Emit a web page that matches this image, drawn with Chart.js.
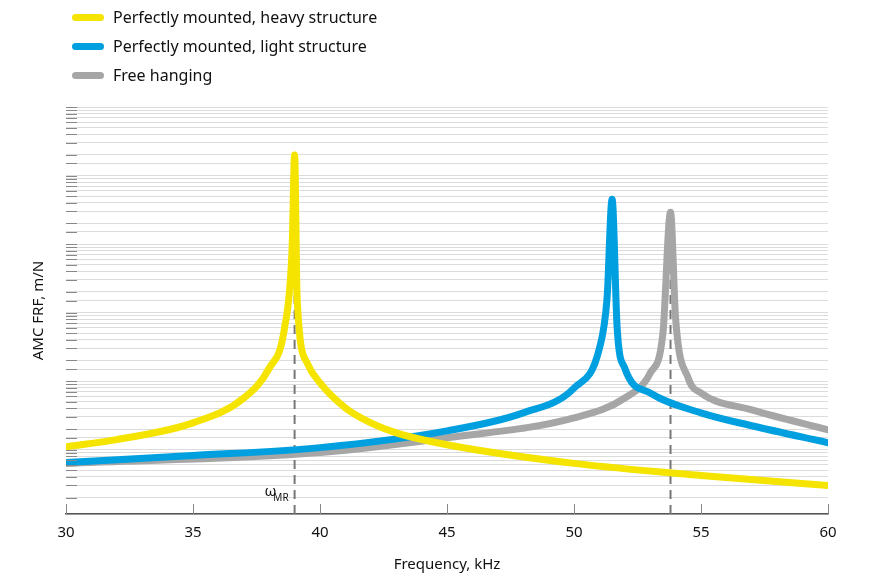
<!DOCTYPE html>
<html><head><meta charset="utf-8">
<script src="https://cdn.jsdelivr.net/npm/chart.js@4/dist/chart.umd.min.js"></script>
<style>
body{margin:0;width:875px;height:584px;position:relative;font-family:"Noto Sans","Open Sans",sans-serif;background:#fff}
#wrap{position:absolute;left:0;top:0;width:875px;height:584px}
.lg{position:absolute;left:72px;font-size:16px;color:#111;display:flex;align-items:center}
.lg span{display:inline-block;width:32px;height:7px;border-radius:4px;margin-right:9px}
</style></head><body>
<div id="wrap"><canvas id="c" width="875" height="584"></canvas></div>
<div class="lg" style="top:6px"><span style="background:#f5e400"></span>Perfectly mounted, heavy structure</div>
<div class="lg" style="top:35px"><span style="background:#009fdf"></span>Perfectly mounted, light structure</div>
<div class="lg" style="top:64px"><span style="background:#a6a6a6"></span>Free hanging</div>
<script>
const heavyX=[30,32,35,37,38,38.6,38.9,39,39.1,39.5,40,41,42,43,45,50,55,60];
const heavyY=[1.10,1.40,2.46,5.67,15.4,58.6,846,20000,160,18.2,9.4,4.06,2.46,1.76,1.18,0.63,0.42,0.30];
const lightX=[30,35,40,45,48,50,51,51.3,51.5,51.7,52,53,55,57,60];
const lightY=[0.65,0.82,1.07,1.88,3.44,7.9,30,160,4500,58.6,15.4,6.7,3.44,2.23,1.26];
const freeX=[30,40,45,50,52,53,53.5,53.8,54,54.5,55,57,60];
const freeY=[0.63,0.91,1.49,2.91,5.67,13.1,49.6,2900,82,11.0,6.7,3.8,1.95];
const markerX=[39,53.8];
const markerTop=[20000,2900];
const xTicks=[30,35,40,45,50,55,60];
const yMin=0.115, yMax=100000;

const pts=(xs,ys)=>xs.map((x,i)=>({x,y:ys[i]}));
const line=(data,color)=>({data,borderColor:color,borderWidth:7,pointRadius:0,fill:false,cubicInterpolationMode:'monotone',borderCapStyle:'round',borderJoinStyle:'round'});
const dash=(x,top)=>({data:[{x,y:yMin},{x,y:top}],borderColor:'#777',borderWidth:2,borderDash:[9,6],pointRadius:0,fill:false,order:10});

const deco={id:'deco',afterDraw(ch){
  const c=ch.ctx,a=ch.chartArea,ys=ch.scales.y,xs=ch.scales.x;
  c.save();c.strokeStyle='#888';c.lineWidth=1;
  ys.ticks.forEach(t=>{const y=Math.round(ys.getPixelForValue(t.value))+0.5;if(y<a.top-1||y>a.bottom)return;c.beginPath();c.moveTo(a.left,y);c.lineTo(a.left+11,y);c.stroke();});
  xTicks.forEach(v=>{const x=Math.round(xs.getPixelForValue(v))+0.5;c.beginPath();c.moveTo(x,a.bottom);c.lineTo(x,a.bottom-10);c.stroke();});
  c.fillStyle='#111';c.font='15px "Noto Sans","Open Sans",sans-serif';c.textAlign='right';c.textBaseline='alphabetic';
  const lx=xs.getPixelForValue(markerX[0])-6, ly=ys.getPixelForValue(0.21);
  c.fillText('ω',lx-12,ly);c.font='10px "Noto Sans","Open Sans",sans-serif';c.fillText('MR',lx,ly+5);
  c.restore();}};

new Chart(document.getElementById('c'),{type:'line',
 data:{datasets:[line(pts(heavyX,heavyY),'#f5e400'),line(pts(lightX,lightY),'#009fdf'),line(pts(freeX,freeY),'#a6a6a6'),dash(markerX[0],markerTop[0]),dash(markerX[1],markerTop[1])]},
 options:{responsive:false,animation:false,devicePixelRatio:1,
  layout:{padding:{top:107,right:47,bottom:6,left:0}},
  plugins:{legend:{display:false},tooltip:{enabled:false}},
  scales:{
   x:{type:'linear',min:30,max:60,
     afterBuildTicks(s){s.ticks=xTicks.map(v=>({value:v}));},
     grid:{display:false,drawTicks:false},border:{display:true,color:'#555',width:1.5},
     ticks:{color:'#111',font:{size:15,family:'"Noto Sans","Open Sans",sans-serif'},padding:10},
     title:{display:true,text:'Frequency, kHz',color:'#111',font:{size:15,family:'"Noto Sans","Open Sans",sans-serif'},padding:{top:4}}},
   y:{type:'logarithmic',min:yMin,max:yMax,
     afterFit(s){s.width=66;},
     grid:{color:'#dcdcdc',lineWidth:1,drawTicks:false},border:{display:false},
     ticks:{display:false,autoSkip:false},
     title:{display:true,text:'AMC FRF, m/N',color:'#111',font:{size:15,family:'"Noto Sans","Open Sans",sans-serif'},padding:{top:30,bottom:14}}}
  }},
 plugins:[deco]});
</script></body></html>
